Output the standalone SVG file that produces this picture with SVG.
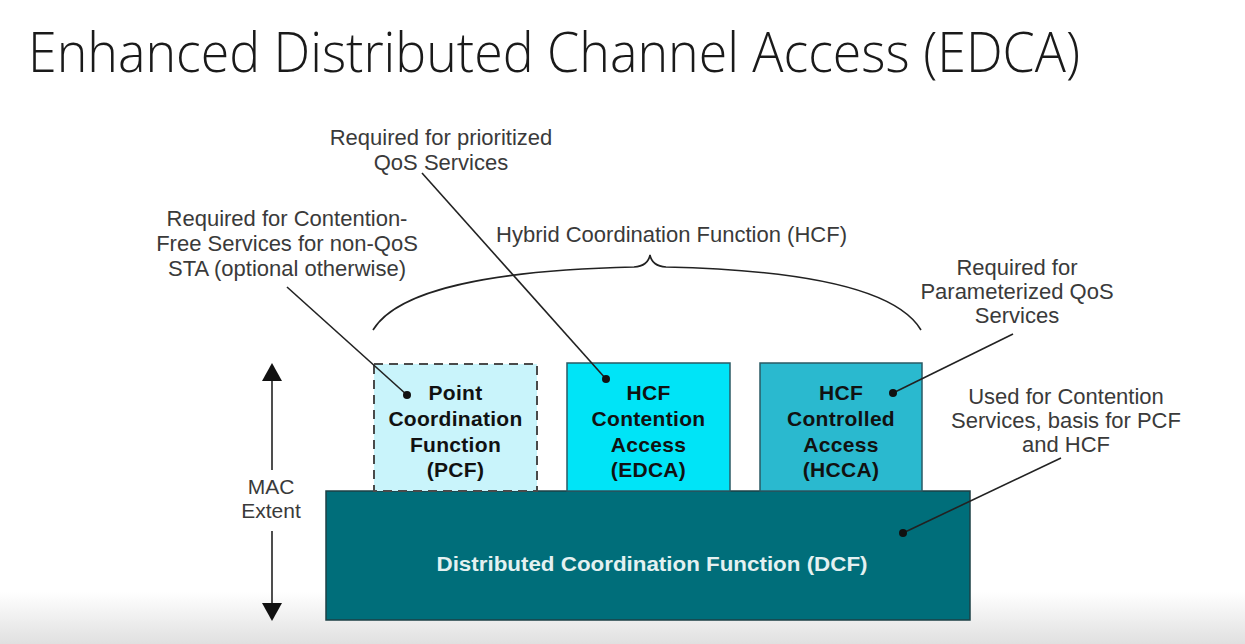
<svg xmlns="http://www.w3.org/2000/svg" width="1245" height="644" viewBox="0 0 1245 644">
<defs>
<linearGradient id="band" x1="0" y1="0" x2="0" y2="1">
<stop offset="0" stop-color="#ffffff"/>
<stop offset="1" stop-color="#e0e0e0"/>
</linearGradient>
<style>
.title{font-family:"Open Sans","Liberation Sans",sans-serif;font-weight:300;font-size:56px;fill:#1a1a1a}
.note{font-family:"Liberation Sans",Arial,sans-serif;font-size:22px;fill:#3a3a3a;text-anchor:middle}
.box{font-family:"Liberation Sans",Arial,sans-serif;font-size:21px;font-weight:bold;fill:#111;text-anchor:middle;letter-spacing:0.3px}
.dcf{font-family:"Liberation Sans",Arial,sans-serif;font-size:20px;font-weight:bold;fill:#e4f1f1;text-anchor:middle}
.lead{stroke:#222;stroke-width:1.6;fill:none}
.dot{fill:#111}
</style>
</defs>
<rect x="0" y="0" width="1245" height="644" fill="#ffffff"/>
<rect x="0" y="592" width="1245" height="52" fill="url(#band)"/>

<text class="title" x="28" y="72" textLength="1052" lengthAdjust="spacingAndGlyphs">Enhanced Distributed Channel Access (EDCA)</text>

<g id="dcf">
<rect x="326" y="491" width="644" height="129" fill="#006e7a" stroke="#1d4046" stroke-width="1.5"/>
<text class="dcf" x="652" y="571" textLength="431" lengthAdjust="spacingAndGlyphs">Distributed Coordination Function (DCF)</text>
</g>

<g id="pcf">
<rect x="374" y="364" width="163" height="127" fill="#c9f4fb" stroke="#4a4a4a" stroke-width="2" stroke-dasharray="9,6"/>
<text class="box" x="455.5" y="400">Point</text>
<text class="box" x="455.5" y="426">Coordination</text>
<text class="box" x="455.5" y="452">Function</text>
<text class="box" x="455.5" y="477">(PCF)</text>
</g>

<g id="edca">
<rect x="567" y="363" width="163" height="128" fill="#00e4f7" stroke="#2a5a64" stroke-width="1.5"/>
<text class="box" x="648.5" y="400">HCF</text>
<text class="box" x="648.5" y="426">Contention</text>
<text class="box" x="648.5" y="452">Access</text>
<text class="box" x="648.5" y="477">(EDCA)</text>
</g>

<g id="hcca">
<rect x="760" y="363" width="162" height="128" fill="#2ab9cf" stroke="#2a5a64" stroke-width="1.5"/>
<text class="box" x="841" y="400">HCF</text>
<text class="box" x="841" y="426">Controlled</text>
<text class="box" x="841" y="452">Access</text>
<text class="box" x="841" y="477">(HCCA)</text>
</g>

<g id="hcf">
<path class="lead" d="M373,330 C398,288 500,270 634,267 Q648,266 650,255 Q652,266 666,267 C800,270 896,288 921,330"/>
<text class="note" x="671.5" y="242">Hybrid Coordination Function (HCF)</text>
</g>

<g id="note-pcf">
<text class="note" x="287" y="226">Required for Contention-</text>
<text class="note" x="287" y="251">Free Services for non-QoS</text>
<text class="note" x="287" y="276">STA (optional otherwise)</text>
</g>

<g id="note-edca">
<text class="note" x="441" y="145">Required for prioritized</text>
<text class="note" x="441" y="170">QoS Services</text>
</g>

<g id="note-hcca">
<text class="note" x="1017" y="275">Required for</text>
<text class="note" x="1017" y="299">Parameterized QoS</text>
<text class="note" x="1017" y="323">Services</text>
</g>

<g id="note-dcf">
<text class="note" x="1066" y="404">Used for Contention</text>
<text class="note" x="1066" y="428">Services, basis for PCF</text>
<text class="note" x="1066" y="452">and HCF</text>
</g>

<g id="mac-extent">
<text class="note" x="271" y="494" style="font-size:21px">MAC</text>
<text class="note" x="271" y="518" style="font-size:21px">Extent</text>
</g>

<g id="connectors">
<line class="lead" x1="287" y1="287" x2="407" y2="395"/>
<circle class="dot" cx="407" cy="395" r="4"/>
<line class="lead" x1="422" y1="173" x2="606" y2="379"/>
<circle class="dot" cx="606" cy="379" r="4"/>
<line class="lead" x1="1013" y1="334" x2="893" y2="393"/>
<circle class="dot" cx="893" cy="393" r="4"/>
<line class="lead" x1="1061" y1="458" x2="903" y2="533"/>
<circle class="dot" cx="903" cy="533" r="4"/>
<line x1="272" y1="470" x2="272" y2="378" stroke="#222" stroke-width="1.6"/>
<path d="M272,363 L262,381 L282,381 z" fill="#111"/>
<line x1="272" y1="531" x2="272" y2="604" stroke="#222" stroke-width="1.6"/>
<path d="M272,621 L262,603 L282,603 z" fill="#111"/>
</g>
</svg>
